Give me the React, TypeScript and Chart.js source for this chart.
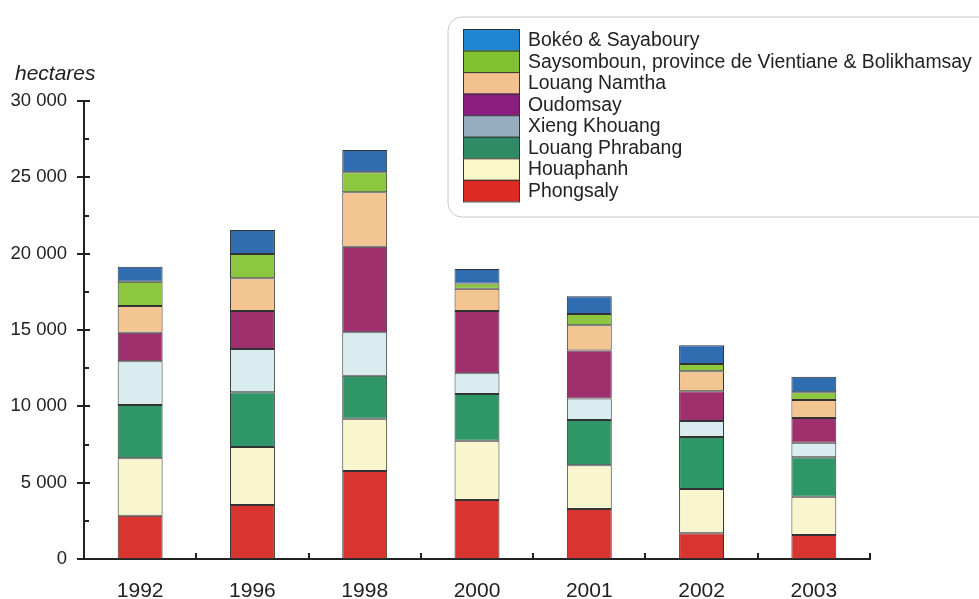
import React, { useEffect, useRef } from "react";
import { Chart, registerables } from "chart.js";

Chart.register(...registerables);

const years = ["1992", "1996", "1998", "2000", "2001", "2002", "2003"];
const phongsaly = [2840, 3540, 5760, 3870, 3280, 1680, 1570];
const houaphanh = [3760, 3800, 3430, 3880, 2860, 2900, 2510];
const louangPhrabang = [3490, 3580, 2820, 3060, 2970, 3410, 2580];
const xiengKhouang = [2860, 2840, 2840, 1360, 1400, 1050, 960];
const oudomsay = [1870, 2490, 5610, 4080, 3140, 1950, 1620];
const louangNamtha = [1750, 2140, 3560, 1460, 1660, 1310, 1180];
const saysomboun = [1590, 1590, 1310, 330, 740, 480, 500];
const bokeo = [980, 1570, 1460, 960, 1160, 1220, 1020];

const seriesNames = [
  "Phongsaly",
  "Houaphanh",
  "Louang Phrabang",
  "Xieng Khouang",
  "Oudomsay",
  "Louang Namtha",
  "Saysomboun, province de Vientiane & Bolikhamsay",
  "Bokéo & Sayaboury",
];
const seriesValues = [phongsaly, houaphanh, louangPhrabang, xiengKhouang, oudomsay, louangNamtha, saysomboun, bokeo];
const barColors = ["#d93530", "#f8f5cf", "#2f9668", "#d9ecef", "#a0306d", "#f3c593", "#8dc63f", "#2f6cb0"];
const legendColors = ["#dd2a22", "#fbf7c9", "#2f8a66", "#97aec2", "#8a1e7e", "#f2c18f", "#80c232", "#1f86d6"];

const yTitle = "hectares";
const FONT = "'Liberation Sans', Arial, sans-serif";

function fmt(v: number) {
  return String(v).replace(/\B(?=(\d{3})+(?!\d))/g, " ");
}

const decorPlugin = {
  id: "decor",
  afterDraw(chart: any) {
    const ctx = chart.ctx;
    const y = chart.scales.y;
    const x = chart.scales.x;
    const ax = chart.chartArea.left;
    const bottom = chart.chartArea.bottom;
    ctx.save();
    ctx.strokeStyle = "#222";
    ctx.lineWidth = 2;
    // y ticks
    for (let v = 0; v <= 30000; v += 2500) {
      const py = Math.round(y.getPixelForValue(v));
      ctx.beginPath();
      if (v % 5000 === 0) {
        ctx.moveTo(ax - 7, py);
        ctx.lineTo(ax + 6, py);
      } else {
        ctx.moveTo(ax, py);
        ctx.lineTo(ax + 5, py);
      }
      ctx.stroke();
    }
    // x ticks between categories
    for (let i = 0; i < years.length; i++) {
      const px = Math.round(x.getPixelForValue(i) + (x.getPixelForValue(1) - x.getPixelForValue(0)) / 2);
      ctx.beginPath();
      ctx.moveTo(px, bottom);
      ctx.lineTo(px, bottom - 6);
      ctx.stroke();
    }
    // y title
    ctx.fillStyle = "#222";
    ctx.font = `italic 21px ${FONT}`;
    ctx.textBaseline = "alphabetic";
    ctx.textAlign = "left";
    ctx.fillText(yTitle, 15, 80);

    // legend
    const lx = 448, ly = 17, lw = 560, lh = 200, r = 14;
    ctx.beginPath();
    ctx.moveTo(lx + r, ly);
    ctx.lineTo(lx + lw - r, ly);
    ctx.arcTo(lx + lw, ly, lx + lw, ly + r, r);
    ctx.lineTo(lx + lw, ly + lh - r);
    ctx.arcTo(lx + lw, ly + lh, lx + lw - r, ly + lh, r);
    ctx.lineTo(lx + r, ly + lh);
    ctx.arcTo(lx, ly + lh, lx, ly + lh - r, r);
    ctx.lineTo(lx, ly + r);
    ctx.arcTo(lx, ly, lx + r, ly, r);
    ctx.closePath();
    ctx.fillStyle = "#ffffff";
    ctx.fill();
    ctx.strokeStyle = "#c8c8c8";
    ctx.lineWidth = 1;
    ctx.stroke();

    const ds = chart.data.datasets;
    const rowH = 21.55;
    ctx.font = `19.4px ${FONT}`;
    ctx.textBaseline = "middle";
    for (let k = 0; k < ds.length; k++) {
      const idx = ds.length - 1 - k;
      const top = 29 + k * rowH;
      ctx.fillStyle = (ds[idx] as any).legendColor;
      ctx.fillRect(463, top, 56, rowH);
      ctx.strokeStyle = "#333";
      ctx.lineWidth = 1;
      ctx.strokeRect(463.5, top + 0.5, 56, rowH);
      ctx.fillStyle = "#222";
      ctx.fillText(ds[idx].label, 528, top + rowH / 2 + 1);
    }
    ctx.restore();
  },
};

export default function App() {
  const ref = useRef<HTMLCanvasElement | null>(null);
  useEffect(() => {
    document.body.style.margin = "0";
    const canvas = ref.current;
    if (!canvas) return;
    const chart = new Chart(canvas, {
      type: "bar",
      data: {
        labels: years,
        datasets: seriesNames.map((name, i) => ({
          label: name,
          data: seriesValues[i],
          backgroundColor: barColors[i],
          legendColor: legendColors[i],
          borderColor: "#333",
          borderWidth: 1,
          borderSkipped: false,
          barPercentage: 0.4,
          categoryPercentage: 1,
        })) as any,
      },
      options: {
        animation: false,
        responsive: false,
        maintainAspectRatio: false,
        layout: { padding: { left: 0, top: 101, right: 109, bottom: 0 } },
        plugins: { legend: { display: false }, tooltip: { enabled: false } },
        scales: {
          x: {
            stacked: true,
            grid: { display: false, drawTicks: false },
            border: { display: true, color: "#222", width: 2 },
            ticks: { color: "#222", font: { family: FONT, size: 21 }, padding: 19.5, maxRotation: 0 },
            afterFit: (s: any) => {
              s.height = 40;
            },
          },
          y: {
            stacked: true,
            min: 0,
            max: 30000,
            grid: { display: false, drawTicks: false },
            border: { display: true, color: "#222", width: 2 },
            ticks: {
              stepSize: 5000,
              color: "#222",
              padding: 17,
              font: { family: FONT, size: 18.5 },
              callback: (v: any) => fmt(Number(v)),
            },
            afterFit: (s: any) => {
              s.width = 84;
            },
          },
        },
      },
      plugins: [decorPlugin],
    });
    return () => chart.destroy();
  }, []);
  return (
    <div style={{ width: 979, height: 599 }}>
      <canvas ref={ref} width={979} height={599} />
    </div>
  );
}
